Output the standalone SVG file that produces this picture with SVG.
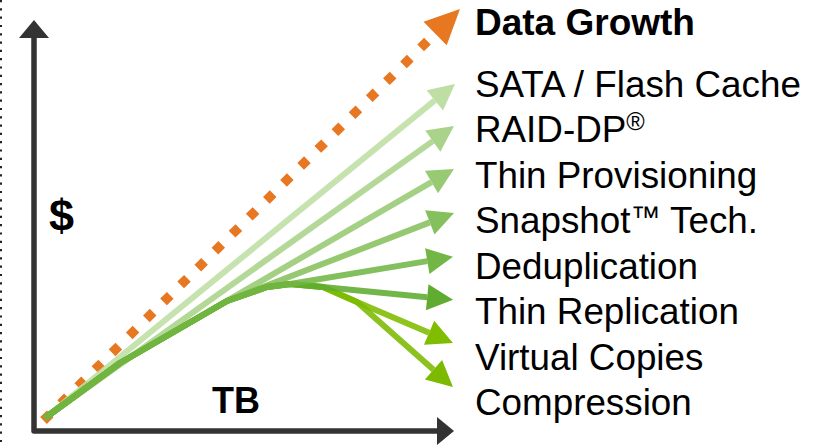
<svg xmlns="http://www.w3.org/2000/svg" width="821" height="446" viewBox="0 0 821 446">
<style>
  .lbl { font-family: "Liberation Sans", Arial, sans-serif; font-size: 36.8px; fill: #000; }
  .bold { font-weight: bold; }
  .shaft { fill: none; stroke-width: 6; stroke-linejoin: round; stroke-opacity: 0.88; }
  .axis { fill: none; stroke: #333333; stroke-width: 5.5; stroke-linejoin: round; }
</style>
<defs>
  <marker id="h-orange" markerUnits="userSpaceOnUse" orient="auto" refX="0" refY="16.5" markerWidth="36" markerHeight="33" overflow="visible"><path d="M0,0 L35,16.5 L0,33 Z" fill="#E87722"/></marker>
  <marker id="h1" markerUnits="userSpaceOnUse" orient="auto" refX="0" refY="13" markerWidth="27" markerHeight="26" overflow="visible"><path d="M0,0 L26,13 L0,26 Z" fill="#BEDEA4"/></marker>
  <marker id="h2" markerUnits="userSpaceOnUse" orient="auto" refX="0" refY="13" markerWidth="27" markerHeight="26" overflow="visible"><path d="M0,0 L26,13 L0,26 Z" fill="#A9D38A"/></marker>
  <marker id="h3" markerUnits="userSpaceOnUse" orient="auto" refX="0" refY="13" markerWidth="27" markerHeight="26" overflow="visible"><path d="M0,0 L26,13 L0,26 Z" fill="#97CA72"/></marker>
  <marker id="h4" markerUnits="userSpaceOnUse" orient="auto" refX="0" refY="13" markerWidth="27" markerHeight="26" overflow="visible"><path d="M0,0 L26,13 L0,26 Z" fill="#86C05D"/></marker>
  <marker id="h5" markerUnits="userSpaceOnUse" orient="auto" refX="0" refY="13" markerWidth="27" markerHeight="26" overflow="visible"><path d="M0,0 L26,13 L0,26 Z" fill="#72B646"/></marker>
  <marker id="h6" markerUnits="userSpaceOnUse" orient="auto" refX="0" refY="13" markerWidth="27" markerHeight="26" overflow="visible"><path d="M0,0 L26,13 L0,26 Z" fill="#5FAC30"/></marker>
  <marker id="h7" markerUnits="userSpaceOnUse" orient="auto" refX="0" refY="13" markerWidth="27" markerHeight="26" overflow="visible"><path d="M0,0 L26,13 L0,26 Z" fill="#80BC00"/></marker>
  <marker id="h8" markerUnits="userSpaceOnUse" orient="auto" refX="0" refY="13" markerWidth="27" markerHeight="26" overflow="visible"><path d="M0,0 L26,13 L0,26 Z" fill="#7CBA00"/></marker>
</defs>

<!-- dotted border on left -->
<line id="border" x1="1" y1="0" x2="1" y2="446" stroke="#222" stroke-width="2" stroke-dasharray="2.2 6.1"/>

<!-- axes -->
<g id="axes">
  <path class="axis" d="M34,36 L34,431 L438,431"/>
  <polygon points="34,20 49,38 19,38" fill="#333333"/>
  <polygon points="454,431 437,445 437,417" fill="#333333"/>
</g>

<g id="connectors">
  <path id="data-growth-line" d="M43.5,420.5 L435.1,33.6" fill="none" stroke="#E87722" stroke-width="9.5" stroke-dasharray="9.5 14.6" marker-end="url(#h-orange)"/>
  <path id="a-sata" class="shaft" stroke="#BEDEA4" d="M45,418 L434.8,100.4" marker-end="url(#h1)"/>
  <path id="a-raid" class="shaft" stroke="#A9D38A" d="M45,418 L432.8,141.1" marker-end="url(#h2)"/>
  <path id="a-thinprov" class="shaft" stroke="#97CA72" d="M45,418 L120,363 L431.5,182.1" marker-end="url(#h3)"/>
  <path id="a-snapshot" class="shaft" stroke="#86C05D" d="M45,418 L120,363 L227,301 L429.8,222.4" marker-end="url(#h4)"/>
  <path id="a-virtual" class="shaft" stroke="#80BC00" d="M45,418 L120,363 L227,301 L267,287 L290,284 L323,287 L357,302 L429.1,332.8" marker-end="url(#h7)"/>
  <path id="a-compression" class="shaft" stroke="#7CBA00" d="M45,418 L120,363 L227,301 L267,287 L290,284 L323,287 L357,302 L433.5,369.8" marker-end="url(#h8)"/>
  <path id="a-thinrepl" class="shaft" stroke="#5FAC30" d="M45,418 L120,363 L227,301 L267,287 L290,284 L323,287 L427.2,297.2" marker-end="url(#h6)"/>
  <path id="a-dedup" class="shaft" stroke="#72B646" d="M45,418 L120,363 L227,301 L267,287 L290,284 L427.3,261.1" marker-end="url(#h5)"/>
</g>

<g id="axis-labels">
  <text id="y-label" class="lbl bold" x="49" y="231" style="font-size:45px">$</text>
  <text id="x-label" class="lbl bold" x="212" y="413" style="font-size:36px">TB</text>
</g>

<g id="labels">
  <text id="t-growth" class="lbl bold" x="475" y="35" style="font-size:37px">Data Growth</text>
  <text id="t-sata" class="lbl" x="475" y="97">SATA / Flash Cache</text>
  <text id="t-raid" class="lbl" x="475" y="142">RAID-DP<tspan font-size="25" dy="-12">®</tspan></text>
  <text id="t-thinprov" class="lbl" x="475" y="188">Thin Provisioning</text>
  <text id="t-snapshot" class="lbl" x="475" y="233">Snapshot<tspan font-size="30" dy="-6">™</tspan><tspan dy="6"> Tech.</tspan></text>
  <text id="t-dedup" class="lbl" x="475" y="279">Deduplication</text>
  <text id="t-thinrepl" class="lbl" x="475" y="324">Thin Replication</text>
  <text id="t-virtual" class="lbl" x="475" y="370">Virtual Copies</text>
  <text id="t-compression" class="lbl" x="475" y="415">Compression</text>
</g>
</svg>
